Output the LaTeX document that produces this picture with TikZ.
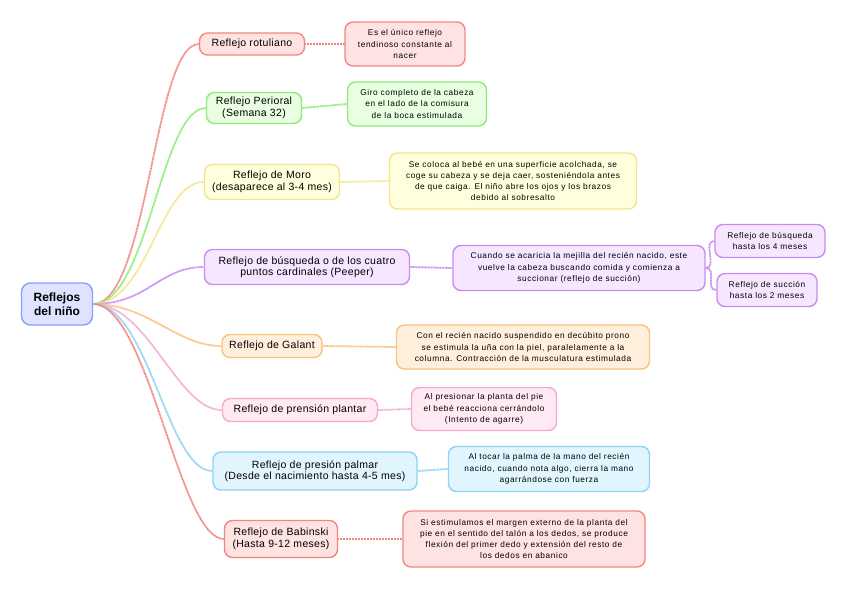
\documentclass[tikz,border=0pt]{standalone}
\usepackage{fontspec}
\setmainfont{Liberation Sans}
\newfontfamily\spaced[LetterSpace=7]{Liberation Sans}
\newfontfamily\lspaced[LetterSpace=3]{Liberation Sans}
\definecolor{redf}{HTML}{FFE3E3}\definecolor{redd}{HTML}{F2877F}
\definecolor{grnf}{HTML}{E9FFE2}\definecolor{grnd}{HTML}{8DEB77}
\definecolor{yelf}{HTML}{FFFFDE}\definecolor{yeld}{HTML}{F7E48A}
\definecolor{purf}{HTML}{F6E6FF}\definecolor{purd}{HTML}{C98CF0}
\definecolor{orgf}{HTML}{FFF0DD}\definecolor{orgd}{HTML}{F7C27A}
\definecolor{pnkf}{HTML}{FFE9F3}\definecolor{pnkd}{HTML}{F6A9CF}
\definecolor{bluf}{HTML}{E1F5FF}\definecolor{blud}{HTML}{8FD3F5}
\definecolor{rootf}{HTML}{DEE4FF}\definecolor{rootd}{HTML}{8AA0F5}
\tikzset{
    topic/.style={draw=#1d, fill=#1f, line width=1.4pt, rounded corners=8pt,
        align=center, inner sep=1pt, font=\lspaced\fontsize{10.5}{11.5}\selectfont},
    info/.style={draw=#1d, fill=#1f, line width=1.4pt, rounded corners=8pt,
        align=center, inner sep=1pt, font=\spaced\fontsize{8.3}{11.3}\selectfont},
    link/.style={draw=#1d, line width=1.8pt, dash pattern=on 1pt off 0.5pt}
}
\begin{document}
\begin{tikzpicture}[x=1pt, y=-1pt]
    \useasboundingbox (0,0) rectangle (848,590);
    % root
    \node[draw=rootd, fill=rootf, line width=1.4pt, rounded corners=9pt, align=center,
        minimum width=71pt, minimum height=42pt, font=\fontsize{12}{13.5}\selectfont\bfseries]
        (root) at (57,304) {Reflejos\\del niño};
    % first level
    \node[topic=red, minimum width=105pt, minimum height=22pt] (rot) at (252,44) {Reflejo rotuliano};
    \node[topic=grn, minimum width=95pt, minimum height=31pt] (per) at (254,108) {Reflejo Perioral\\(Semana 32)};
    \node[topic=yel, minimum width=135pt, minimum height=35pt] (mor) at (272,182) {Reflejo de Moro\\(desaparece al 3-4 mes)};
    \node[topic=pur, minimum width=205pt, minimum height=35pt] (bus) at (307,267) {Reflejo de búsqueda o de los cuatro\\puntos cardinales (Peeper)};
    \node[topic=org, minimum width=100pt, minimum height=23pt] (gal) at (272,346) {Reflejo de Galant};
    \node[topic=pnk, minimum width=155pt, minimum height=23pt] (pla) at (300,410) {Reflejo de prensión plantar};
    \node[topic=blu, minimum width=204pt, minimum height=38pt] (pal) at (315,471) {Reflejo de presión palmar\\(Desde el nacimiento hasta 4-5 mes)};
    \node[topic=red, minimum width=113pt, minimum height=37pt] (bab) at (281,539) {Reflejo de Babinski\\(Hasta 9-12 meses)};
    % descriptions
    \node[info=red, minimum width=120pt, minimum height=44pt] (drot) at (405,44) {Es el único reflejo\\tendinoso constante al\\nacer};
    \node[info=grn, minimum width=139pt, minimum height=44pt] (dper) at (417,104) {Giro completo de la cabeza\\en el lado de la comisura\\de la boca estimulada};
    \node[info=yel, minimum width=247pt, minimum height=56pt] (dmor) at (513,181) {Se coloca al bebé en una superficie acolchada, se\\coge su cabeza y se deja caer, sosteniéndola antes\\de que caiga. El niño abre los ojos y los brazos\\debido al sobresalto};
    \node[info=pur, minimum width=252pt, minimum height=45pt] (dbus) at (579,268) {Cuando se acaricia la mejilla del recién nacido, este\\vuelve la cabeza buscando comida y comienza a\\succionar (reflejo de succión)};
    \node[info=org, minimum width=253pt, minimum height=44pt] (dgal) at (523,347) {Con el recién nacido suspendido en decúbito prono\\se estimula la uña con la piel, paralelamente a la\\columna. Contracción de la musculatura estimulada};
    \node[info=pnk, minimum width=145pt, minimum height=43pt] (dpla) at (484,409) {Al presionar la planta del pie\\el bebé reacciona cerrándolo\\(Intento de agarre)};
    \node[info=blu, minimum width=201pt, minimum height=45pt] (dpal) at (549,469) {Al tocar la palma de la mano del recién\\nacido, cuando nota algo, cierra la mano\\agarrándose con fuerza};
    \node[info=red, minimum width=242pt, minimum height=56pt] (dbab) at (524,539) {Si estimulamos el margen externo de la planta del\\pie en el sentido del talón a los dedos, se produce\\flexión del primer dedo y extensión del resto de\\los dedos en abanico};
    % succion / busqueda
    \node[info=pur, minimum width=110pt, minimum height=33pt] (s1) at (770,241) {Reflejo de búsqueda\\hasta los 4 meses};
    \node[info=pur, minimum width=100pt, minimum height=33pt] (s2) at (767,290) {Reflejo de succión\\hasta los 2 meses};
    % connectors
    \foreach \b/\c in {rot/red,per/grn,mor/yel,bus/pur,gal/org,pla/pnk,pal/blu,bab/red} {
        \draw[link=\c] (root.east) .. controls +(55,0) and +(-45,0) .. (\b.west);
        \draw[link=\c] (\b.east) -- (d\b.west);
    }
    \foreach \s in {s1,s2} {
        \draw[link=pur] (dbus.east) .. controls +(12,0) and +(-12,0) .. (\s.west);
    }
\end{tikzpicture}
\end{document}
